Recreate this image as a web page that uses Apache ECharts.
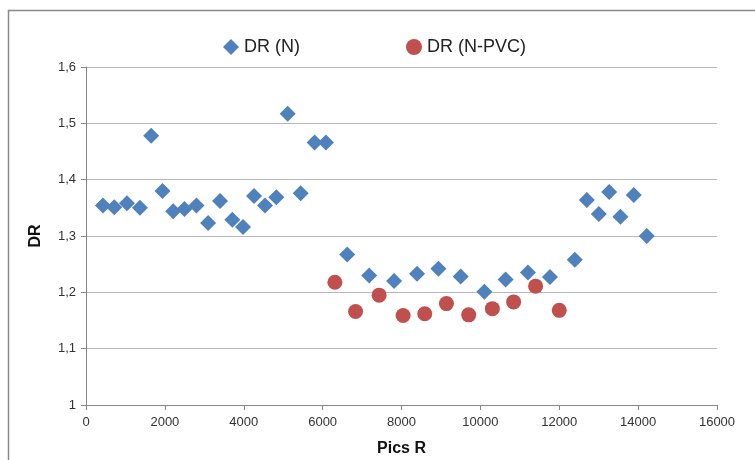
<!DOCTYPE html>
<html>
<head>
<meta charset="utf-8">
<script src="https://cdn.jsdelivr.net/npm/echarts@6/dist/echarts.min.js"></script>
<style>
  html, body { margin: 0; padding: 0; background: #fff; }
  #chart { width: 755px; height: 460px; }
</style>
</head>
<body>
<div id="chart"></div>
<script>
  // DR (N) points: [Pics R, DR]
  const drN = [
    [430, 1.354], [716, 1.351], [1038, 1.358], [1367, 1.350], [1653, 1.478],
    [1939, 1.380], [2210, 1.344], [2496, 1.348], [2800, 1.354], [3096, 1.323],
    [3400, 1.362], [3711, 1.329], [3982, 1.316], [4261, 1.371], [4539, 1.354],
    [4825, 1.369], [5114, 1.517], [5443, 1.376], [5797, 1.466], [6084, 1.466],
    [6623, 1.267], [7180, 1.230], [7813, 1.220], [8395, 1.233], [8937, 1.242],
    [9501, 1.228], [10101, 1.201], [10641, 1.223], [11206, 1.235], [11764, 1.227],
    [12395, 1.258], [12699, 1.364], [13003, 1.339], [13266, 1.378], [13552, 1.334],
    [13889, 1.373], [14218, 1.300]
  ]
  // DR (N-PVC) points
  const drNPVC = [
    [6311, 1.218], [6835, 1.166], [7433, 1.195], [8041, 1.159], [8590, 1.162],
    [9139, 1.180], [9704, 1.160], [10304, 1.171], [10843, 1.183], [11400, 1.211],
    [12000, 1.168]
  ]
  const seriesNames = ['DR (N)', 'DR (N-PVC)']

  const myChart = echarts.init(document.getElementById('chart'))
  myChart.setOption({
    animation: false,
    textStyle: { fontFamily: 'Liberation Sans' },
    graphic: [{
      type: 'rect',
      shape: { x: 8.5, y: 10.5, width: 800, height: 500 },
      style: { fill: 'none', stroke: '#898989', lineWidth: 1.5 },
      silent: true
    }],
    legend: {
      data: [
        { name: seriesNames[0], icon: 'diamond' },
        { name: seriesNames[1], icon: 'circle' }
      ],
      left: 218,
      top: 33,
      itemWidth: 16,
      itemHeight: 16,
      itemGap: 106,
      textStyle: { fontSize: 18, color: '#222', fontFamily: 'Liberation Sans' }
    },
    grid: { left: 86, right: 38, top: 67, bottom: 55, outerBoundsMode: 'none' },
    xAxis: {
      type: 'value',
      min: 0,
      max: 16000,
      interval: 2000,
      name: 'Pics R',
      nameLocation: 'middle',
      nameGap: 36,
      nameTextStyle: { fontSize: 16, fontWeight: 'bold', color: '#111' },
      axisLine: { lineStyle: { color: '#868686' } },
      axisTick: { show: true, length: 5, lineStyle: { color: '#868686' } },
      axisLabel: { fontSize: 13, color: '#333', margin: 11, formatter: v => String(v) },
      splitLine: { show: false }
    },
    yAxis: {
      type: 'value',
      min: 1,
      max: 1.6,
      interval: 0.1,
      name: 'DR',
      nameLocation: 'middle',
      nameGap: 42,
      nameTextStyle: { fontSize: 16, fontWeight: 'bold', color: '#111' },
      axisLine: { show: true, lineStyle: { color: '#868686' } },
      axisTick: { show: true, length: 5, lineStyle: { color: '#868686' } },
      axisLabel: {
        fontSize: 13, color: '#333', margin: 10,
        formatter: v => String(Math.round(v * 10) / 10).replace('.', ',')
      },
      splitLine: { lineStyle: { color: '#b8b8b8', width: 1 } }
    },
    series: [
      {
        name: seriesNames[0],
        type: 'scatter',
        symbol: 'diamond',
        symbolSize: 16,
        itemStyle: { color: '#4F81BD', opacity: 1 },
        data: drN
      },
      {
        name: seriesNames[1],
        type: 'scatter',
        symbol: 'circle',
        symbolSize: 15,
        itemStyle: { color: '#C0504D', opacity: 1 },
        data: drNPVC
      }
    ]
  })
</script>
</body>
</html>
